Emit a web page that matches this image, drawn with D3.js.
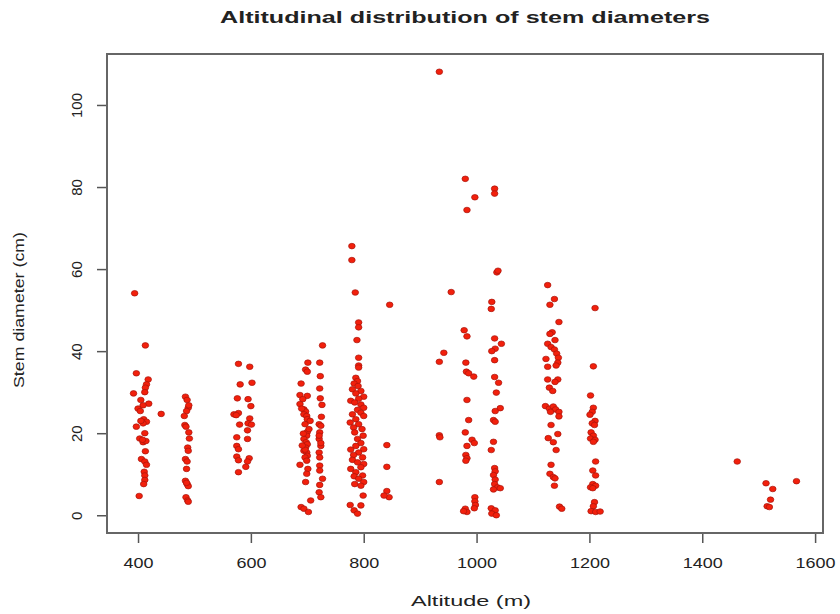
<!DOCTYPE html>
<html>
<head>
<meta charset="utf-8">
<script src="https://cdn.jsdelivr.net/npm/d3@7"></script>
<style>
  body { margin: 0; background: #fff; }
  text { font-family: "Liberation Sans", Arial, sans-serif; fill: #222; }
  .title { font-weight: bold; font-size: 17px; text-anchor: middle; }
</style>
</head>
<body>
<script>
/**********************
 ***    Constants   ***
 **********************/
const SCREEN = {
  width: 840,
  height: 614,
  left: 107,
  right: 17,
  top: 54,
  bottom: 81
};
SCREEN.innerWidth = SCREEN.width - SCREEN.left - SCREEN.right;
SCREEN.innerHeight = SCREEN.height - SCREEN.top - SCREEN.bottom;

const TITLE_TEXT = "Altitudinal distribution of stem diameters";
const X_LABEL = "Altitude (m)";
const Y_LABEL = "Stem diameter (cm)";

const xTicks = [400, 600, 800, 1000, 1200, 1400, 1600];
const yTicks = [0, 20, 40, 60, 80, 100];

// [altitude, stem diameter] pairs, grouped by site
const site400 = [[394,54.1],[413,41.4],[397,34.6],[418,33.1],[415,31.9],[413,31.1],[412,30.0],[392,29.7],
  [405,28.1],[419,27.2],[409,26.8],[400,26.0],[441,24.7],[404,25.4],[410,23.4],[415,22.8],[409,22.4],
  [397,21.6],[412,20.0],[403,18.7],[409,17.8],[414,18.1],[413,15.6],[406,13.7],[412,13.1],[415,12.3],
  [411,10.6],[412,9.7],[412,8.6],[410,7.6],[402,4.7],[405,23.0],[408,18.4]];
const site490 = [[484,28.9],[487,28.1],[489,26.2],[486,25.4],[482,24.2],[483,22.0],[485,21.6],[490,20.2],
  [491,18.7],[488,16.5],[489,15.7],[484,13.7],[487,13.1],[486,11.3],[484,8.4],[487,7.6],[489,7.1],
  [485,4.4],[488,3.6],[489,3.3],[486,7.9],[490,26.8]];
const site590 = [[578,36.9],[598,36.2],[581,31.9],[602,32.3],[576,28.5],[595,28.3],[600,26.6],[570,24.6],
  [578,24.9],[574,24.4],[598,23.6],[595,22.4],[601,22.1],[580,22.1],[594,20.7],[575,19.0],[594,18.6],
  [575,16.9],[578,16.1],[575,14.3],[597,13.9],[578,13.4],[594,13.1],[591,11.8],[578,10.5]];
const site700 = [[701,37.2],[697,35.5],[700,35.0],[689,32.1],[687,29.3],[700,29.1],[692,28.3],[687,27.1],
  [694,25.8],[697,25.3],[694,24.6],[699,24.2],[700,23.4],[705,23.0],[696,22.2],[700,20.3],[699,19.4],
  [694,18.6],[698,17.8],[700,17.3],[697,16.5],[694,15.7],[699,15.3],[700,14.5],[696,14.1],[699,13.3],
  [687,12.3],[701,11.3],[699,10.1],[697,8.1],[706,3.6],[689,2.0],[694,1.6],[702,0.8],[693,19.9],
  [696,16.0],[691,17.0],[703,21.0],[690,26.0]];
const site720 = [[727,41.4],[722,37.2],[723,33.9],[722,30.9],[726,26.9],[725,24.0],[721,22.2],[724,21.8],
  [722,20.2],[721,18.6],[724,16.9],[721,15.3],[722,14.1],[722,12.1],[722,10.9],[727,8.9],[722,7.4],
  [721,5.6],[724,4.4],[723,28.5],[721,19.4],[724,17.6]];
const site790 = [[779,65.6],[779,62.2],[785,54.3],[791,47.0],[791,45.8],[788,42.7],[791,38.4],[791,36.5],
  [791,36.0],[786,33.5],[789,32.7],[783,32.1],[790,31.5],[780,30.7],[795,30.3],[786,29.7],[800,28.9],
  [791,28.4],[777,27.9],[784,27.5],[795,27.0],[800,26.2],[789,25.7],[795,25.0],[780,24.6],[800,24.2],
  [786,23.4],[776,22.6],[791,22.2],[782,21.4],[797,21.0],[784,20.2],[799,19.4],[789,18.6],[795,17.6],
  [786,16.9],[800,16.1],[777,16.0],[791,15.3],[782,14.7],[798,14.1],[780,13.5],[789,12.9],[800,12.5],
  [795,11.7],[777,11.3],[786,10.5],[798,9.7],[783,9.5],[791,8.9],[800,8.1],[784,7.6],[795,7.2],
  [799,4.8],[776,2.5],[795,2.4],[783,1.2],[789,0.4]];
const site845 = [[846,51.3],[841,17.1],[841,11.8],[841,5.9],[845,4.4],[836,4.8]];
const site940 = [[934,108.1],[955,54.4],[942,39.6],[934,37.4],[934,19.5],[935,19.0],[934,8.1]];
const site990 = [[980,82.0],[997,77.5],[983,74.4],[978,45.1],[983,43.6],[981,37.2],[982,35.0],[986,34.6],
  [995,33.8],[983,28.1],[986,23.2],[980,20.2],[992,18.4],[996,17.6],[983,16.9],[981,14.7],[983,13.9],
  [981,13.3],[997,4.4],[997,3.4],[998,2.5],[996,1.7],[980,1.6],[983,0.8],[977,1.0]];
const site1035 = [[1032,79.6],[1032,78.4],[1036,59.2],[1038,59.6],[1027,52.0],[1026,50.3],[1032,43.1],
  [1044,41.8],[1033,40.6],[1027,40.0],[1032,37.8],[1032,33.7],[1039,32.3],[1035,29.9],[1042,26.1],
  [1033,25.4],[1030,23.2],[1033,22.8],[1030,17.9],[1026,15.9],[1032,11.5],[1033,10.7],[1030,9.8],
  [1033,8.7],[1032,7.6],[1037,6.8],[1030,6.3],[1042,6.6],[1026,1.7],[1033,1.2],[1027,0.4],[1035,0.0]];
const site1140 = [[1126,56.1],[1138,52.7],[1130,51.3],[1146,47.1],[1134,44.6],[1130,44.2],[1139,42.7],
  [1126,41.8],[1132,41.0],[1138,40.4],[1142,39.4],[1145,38.4],[1123,38.1],[1144,37.2],[1141,36.5],
  [1126,36.2],[1126,33.1],[1144,33.1],[1139,32.5],[1129,31.1],[1135,30.3],[1122,26.6],[1129,26.0],
  [1136,26.5],[1140,25.8],[1146,25.2],[1131,25.2],[1146,24.1],[1132,22.0],[1144,19.8],[1127,18.8],
  [1136,17.8],[1141,15.9],[1132,12.3],[1130,10.1],[1136,9.3],[1139,9.0],[1138,7.2],[1147,2.1],[1151,1.6]];
const site1210 = [[1210,50.5],[1207,36.3],[1202,29.2],[1207,26.2],[1205,25.2],[1201,24.5],[1210,23.0],
  [1205,22.4],[1209,22.0],[1203,20.2],[1207,19.4],[1202,18.7],[1210,18.4],[1207,17.9],[1211,13.1],
  [1206,10.9],[1211,9.7],[1206,7.6],[1211,7.2],[1202,6.8],[1206,6.6],[1209,3.2],[1207,2.2],[1203,1.0],
  [1211,0.8],[1219,0.9]];
const siteHigh = [[1462,13.1],[1513,7.8],[1525,6.4],[1567,8.3],[1521,3.8],[1515,2.2],[1519,2.0]];

const allPoints = [].concat(site400, site490, site590, site700, site720, site790, site845,
  site940, site990, site1035, site1140, site1210, siteHigh);

/**********************
 ***     Scales     ***
 **********************/
// R-style 4% padding on the data range
const pad = ([lo, hi]) => [lo - (hi - lo) * 0.04, hi + (hi - lo) * 0.04];

const x = d3.scaleLinear()
  .domain(pad(d3.extent(allPoints, d => d[0])))
  .range([SCREEN.left, SCREEN.left + SCREEN.innerWidth]);

const y = d3.scaleLinear()
  .domain(pad(d3.extent(allPoints, d => d[1])))
  .range([SCREEN.top + SCREEN.innerHeight, SCREEN.top]);

const svg = d3.select("body").append("svg")
  .attr("width", SCREEN.width)
  .attr("height", SCREEN.height);

svg.append("text")
  .attr("class", "title")
  .attr("x", SCREEN.left + SCREEN.innerWidth / 2)
  .attr("y", 23)
  .attr("textLength", 490)
  .attr("lengthAdjust", "spacingAndGlyphs")
  .text(TITLE_TEXT);

/******************
 ***    Axes    ***
 ******************/
const xAxis = svg.append("g")
  .attr("transform", `translate(0,${SCREEN.top + SCREEN.innerHeight})`)
  .call(d3.axisBottom(x).tickValues(xTicks).tickSize(10).tickPadding(14).tickSizeOuter(0)
    .tickFormat(d3.format("d")));

xAxis.selectAll("text")
  .style("font-size", "15px")
  .attr("textLength", d => String(d).length * 10)
  .attr("lengthAdjust", "spacingAndGlyphs");

const yAxis = svg.append("g")
  .attr("transform", `translate(${SCREEN.left},0)`)
  .call(d3.axisLeft(y).tickValues(yTicks).tickSize(10).tickSizeOuter(0).tickFormat(d3.format("d")));

yAxis.selectAll("text")
  .style("font-size", "15px")
  .attr("x", null)
  .attr("dy", null)
  .attr("text-anchor", "middle")
  .attr("transform", "translate(-25,0) rotate(-90)");

svg.selectAll(".domain").remove();
svg.selectAll(".tick line").attr("stroke", "#555").attr("stroke-width", 1.5);

// plot box
svg.append("rect")
  .attr("x", SCREEN.left)
  .attr("y", SCREEN.top)
  .attr("width", SCREEN.innerWidth)
  .attr("height", SCREEN.innerHeight)
  .attr("fill", "none")
  .attr("stroke", "#666")
  .attr("stroke-width", 2);

svg.append("text")
  .attr("x", SCREEN.left + SCREEN.innerWidth / 2 + 6)
  .attr("y", 606)
  .attr("text-anchor", "middle")
  .attr("textLength", 120)
  .attr("lengthAdjust", "spacingAndGlyphs")
  .style("font-size", "15px")
  .text(X_LABEL);

svg.append("text")
  .attr("transform", `translate(24,310) rotate(-90)`)
  .attr("text-anchor", "middle")
  .attr("textLength", 156)
  .attr("lengthAdjust", "spacingAndGlyphs")
  .style("font-size", "15px")
  .text(Y_LABEL);

/******************
 ***   Points   ***
 ******************/
svg.append("g")
  .selectAll("ellipse")
  .data(allPoints)
  .enter()
  .append("ellipse")
  .attr("cx", d => x(d[0]))
  .attr("cy", d => y(d[1]))
  .attr("rx", 3.3)
  .attr("ry", 2.8)
  .attr("fill", "#f2200c")
  .attr("stroke", "#a8140c")
  .attr("stroke-width", 0.7);
</script>
</body>
</html>
